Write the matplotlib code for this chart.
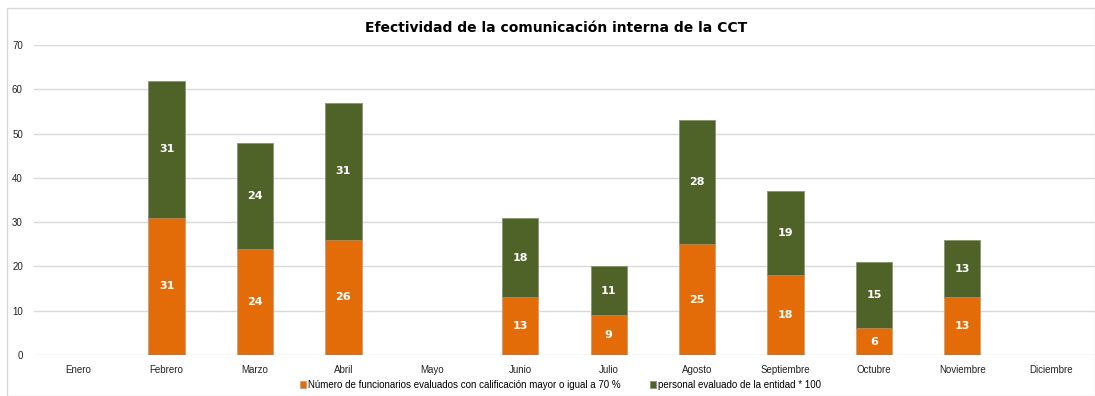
import matplotlib
matplotlib.use("Agg")
import matplotlib.pyplot as plt
from matplotlib.patches import Rectangle
import numpy as np

months = ["Enero", "Febrero", "Marzo", "Abril", "Mayo", "Junio", "Julio",
          "Agosto", "Septiembre", "Octubre", "Noviembre", "Diciembre"]
aprobados = [0, 31, 24, 26, 0, 13, 9, 25, 18, 6, 13, 0]
evaluados = [0, 31, 24, 31, 0, 18, 11, 28, 19, 15, 13, 0]
yticks = [0, 10, 20, 30, 40, 50, 60, 70]

label_a = "Número de funcionarios evaluados con calificación mayor o igual a 70 %"
label_b = "personal evaluado de la entidad * 100"
c_orange = "#E36C09"
c_green = "#4F6228"

plt.rcParams["font.family"] = ["Liberation Sans", "DejaVu Sans"]

fig = plt.figure(figsize=(10.95, 3.96), dpi=100)
fig.patches.append(Rectangle((0.006, 0.0), 0.994, 0.98, transform=fig.transFigure,
                             fill=False, edgecolor="#D9D9D9", linewidth=1.0))
ax = fig.add_axes([0.031, 0.1035, 0.969, 0.7825])

x = np.arange(len(months))
w = 0.41
b1 = ax.bar(x, aprobados, w, color=c_orange, edgecolor="#C8A080", linewidth=0.6,
            label=label_a, zorder=3)
b2 = ax.bar(x, evaluados, w, bottom=aprobados, color=c_green, edgecolor="#8A9378",
            linewidth=0.6, label=label_b, zorder=3)

for i in range(len(months)):
    if aprobados[i] > 0:
        ax.text(x[i], aprobados[i] / 2, str(aprobados[i]), ha="center", va="center",
                color="white", fontsize=8, fontweight="bold", family="DejaVu Sans",
                zorder=4)
    if evaluados[i] > 0:
        ax.text(x[i], aprobados[i] + evaluados[i] / 2, str(evaluados[i]), ha="center",
                va="center", color="white", fontsize=8, fontweight="bold",
                family="DejaVu Sans", zorder=4)

ax.set_xlim(-0.5, len(months) - 0.5)
ax.set_ylim(0, 70)
ax.set_yticks(yticks)
ax.set_xticks(x)
ax.set_xticklabels(months)
ax.tick_params(axis="both", length=0, labelsize=7, colors="#222222")
ax.tick_params(axis="y", pad=8)
ax.tick_params(axis="x", pad=7)
ax.grid(axis="y", color="#D9D9D9", linewidth=1.0, zorder=0)
for s in ax.spines.values():
    s.set_visible(False)

fig.text(0.508, 0.93, "Efectividad de la comunicación interna de la CCT", ha="center",
         va="center", fontsize=10, fontweight="bold", family="DejaVu Sans")

fig.legend(handles=[b1, b2], labels=[label_a, label_b], loc="center",
           bbox_to_anchor=(0.512, 0.028), ncol=2, frameon=False, fontsize=7,
           handlelength=0.6, handleheight=0.6, handletextpad=0.2, columnspacing=3.0)

fig.savefig("out.png", dpi=100)
